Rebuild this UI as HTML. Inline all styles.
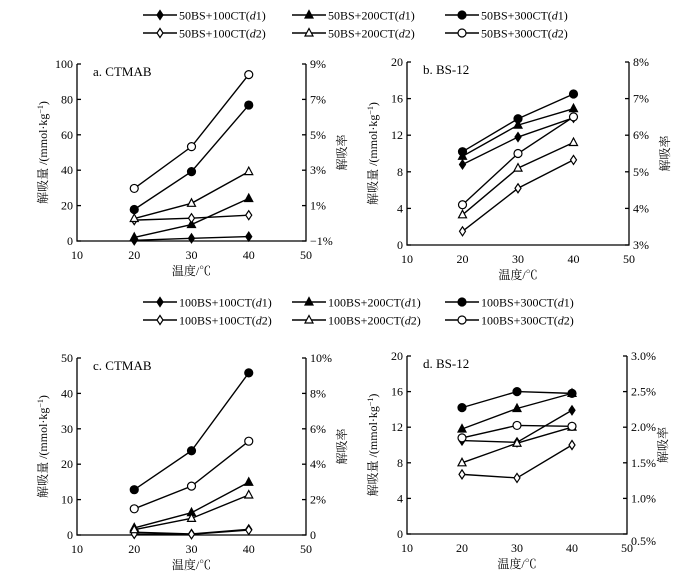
<!DOCTYPE html>
<html><head><meta charset="utf-8"><style>
body{margin:0;background:#fff}
svg{display:block;font-family:"Liberation Serif","Noto Serif CJK SC",serif}
</style></head><body>
<svg id="fig" width="694" height="575" viewBox="0 0 694 575" xmlns="http://www.w3.org/2000/svg"></svg>
<script>
const temps=[20,30,40];
const xTicks=[10,20,30,40,50];
const legendTop=["50BS+100CT","50BS+200CT","50BS+300CT"];
const legendBottom=["100BS+100CT","100BS+200CT","100BS+300CT"];
// panel a
const a_d1_100=[0.4,1.5,2.5], a_d1_200=[2,9.3,24], a_d1_300=[17.8,39.2,76.8];
const a_d2_100=[11.8,12.9,14.6], a_d2_200=[12.7,21.3,39.2], a_d2_300=[29.7,53.3,94];
const a_left=[0,20,40,60,80,100], a_right=["9%","7%","5%","3%","1%","−1%"];
// panel b
const b_d1_100=[8.8,11.8,13.9], b_d1_200=[9.7,13.1,14.9], b_d1_300=[10.2,13.8,16.5];
const b_d2_100=[1.5,6.2,9.3], b_d2_200=[3.3,8.4,11.2], b_d2_300=[4.4,10,14];
const b_left=[0,4,8,12,16,20], b_right=["8%","7%","6%","5%","4%","3%"];
// panel c
const c_d1_100=[0.8,0.3,1.6], c_d1_200=[2,6.3,14.9], c_d1_300=[12.8,23.8,45.8];
const c_d2_100=[0.3,0.2,1.4], c_d2_200=[1.5,4.7,11.3], c_d2_300=[7.4,13.8,26.5];
const c_left=[0,10,20,30,40,50], c_right=["10%","8%","6%","4%","2%","0"];
// panel d
const d_d1_100=[10.5,10.3,13.9], d_d1_200=[11.8,14.1,15.8], d_d1_300=[14.2,16,15.8];
const d_d2_100=[6.7,6.3,10.0], d_d2_200=[8,10.2,12], d_d2_300=[10.8,12.2,12.1];
const d_left=[0,4,8,12,16,20], d_right=["3.0%","2.5%","2.0%","1.5%","1.0%","0.5%"];

const NS="http://www.w3.org/2000/svg";
const svg=document.getElementById('fig');
function mk(tag,attrs,parent){const e=document.createElementNS(NS,tag);for(const k in attrs)e.setAttribute(k,attrs[k]);(parent||svg).appendChild(e);return e;}
function txt(s,x,y,size,anchor,parent){const t=mk('text',{x:x,y:y,'font-size':size,'text-anchor':anchor||'start',fill:'#000'},parent);t.innerHTML=s;return t;}
function marker(kind,filled,x,y,g){
  const f=filled?'#000':'#fff';
  let m;
  if(kind===0)m=mk('polygon',{points:`${x},${y-4.5} ${x+3},${y} ${x},${y+4.5} ${x-3},${y}`,fill:f,stroke:'#000','stroke-width':1.2},g);
  else if(kind===1)m=mk('polygon',{points:`${x},${y-4.5} ${x+4},${y+3} ${x-4},${y+3}`,fill:f,stroke:'#000','stroke-width':1.2},g);
  else m=mk('circle',{cx:x,cy:y,r:4,fill:f,stroke:'#000','stroke-width':1.2},g);
  
  
}
function legend(names,y0){
  const g=mk('g',{});
  
  
  const cols=[143,292,445];
  [0,1].forEach(r=>{names.forEach((n,i)=>{
    const y=y0+r*18, x=cols[i];
    const e=mk('g',{},g);
    
    
    mk('line',{x1:x,y1:y,x2:x+34,y2:y,stroke:'#000','stroke-width':1.5},e);
    marker(i,r===0,x+17,y,e);
    txt(`${n}(<tspan font-style="italic">d</tspan>${r+1})`,x+36,y+4.5,12,'start',e);
  });});
}
function panel(o){
  const g=mk('g',{});
  
  
  const X=v=>o.x0+(v-10)/40*(o.x1-o.x0);
  const Y=v=>o.yb-(v-o.left[0])/(o.left[o.left.length-1]-o.left[0])*(o.yb-o.yt);
  mk('path',{d:`M${o.x0},${o.yt} V${o.yb} H${o.x1} V${o.yt}`,fill:'none',stroke:'#000','stroke-width':1.3},g);
  o.left.forEach((v,i)=>{const y=Y(v);
    mk('line',{x1:o.x0,y1:y,x2:o.x0+4,y2:y,stroke:'#000','stroke-width':1.3},g);
    txt(v,o.x0-4,y+4,12,'end',g);
    const ry=o.yt+(o.yb-o.yt)*i/(o.left.length-1);
    mk('line',{x1:o.x1-4,y1:ry,x2:o.x1,y2:ry,stroke:'#000','stroke-width':1.3},g);
    txt(o.right[i],o.x1+4,ry+4+(o.rlastOff&&i===o.left.length-1?o.rlastOff:0),12,'start',g);
  });
  xTicks.forEach(v=>txt(v,X(v),o.yb+18,12,'middle',g));
  txt(o.title,o.x0+16,o.yt+12,13,'start',g);
  const xl=txt('温度/℃',(o.x0+o.x1)/2,o.yb+34,12,'middle',g);
  
  const yl=txt('解吸量 /(mmol·kg<tspan baseline-shift="super" font-size="8">−1</tspan>)',0,0,12,'middle',g);
  yl.setAttribute('transform',`translate(${o.x0-30},${(o.yt+o.yb)/2}) rotate(-90)`);
  
  const rl=txt('解吸率',0,0,12,'middle',g);
  rl.setAttribute('transform',`translate(${o.x1+40},${(o.yt+o.yb)/2}) rotate(-90)`);
  
  o.series.forEach((s,k)=>{
    const kind=k%3, filled=k<3;
    const pts=s.map((v,i)=>`${X(temps[i])},${Y(v)}`).join(' ');
    const l=mk('polyline',{points:pts,fill:'none',stroke:'#000','stroke-width':1.4},g);
    
    
    s.forEach((v,i)=>marker(kind,filled,X(temps[i]),Y(v),g));
  });
}
legend(legendTop,15);
legend(legendBottom,302);
panel({name:'panel-a',x0:77,x1:306,yt:64,yb:241,left:a_left,right:a_right,title:'a. CTMAB',
  series:[a_d1_100,a_d1_200,a_d1_300,a_d2_100,a_d2_200,a_d2_300]});
panel({name:'panel-b',x0:407,x1:629,yt:62,yb:245,left:b_left,right:b_right,title:'b. BS-12',
  series:[b_d1_100,b_d1_200,b_d1_300,b_d2_100,b_d2_200,b_d2_300]});
panel({name:'panel-c',x0:77,x1:306,yt:358,yb:535,left:c_left,right:c_right,title:'c. CTMAB',
  series:[c_d1_100,c_d1_200,c_d1_300,c_d2_100,c_d2_200,c_d2_300]});
panel({name:'panel-d',x0:407,x1:627,yt:356,yb:534,left:d_left,right:d_right,title:'d. BS-12',rlastOff:7,
  series:[d_d1_100,d_d1_200,d_d1_300,d_d2_100,d_d2_200,d_d2_300]});
</script>
</body></html>
